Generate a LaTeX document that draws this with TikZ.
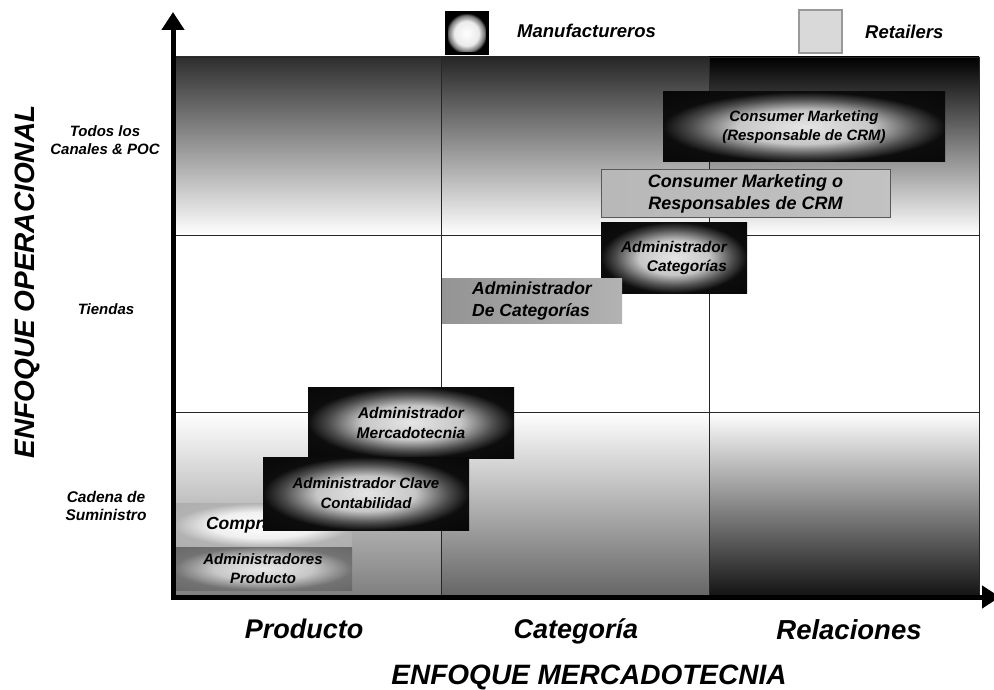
\documentclass[tikz,border=0pt]{standalone}
\usepackage{fontspec}
\setmainfont{Liberation Sans}
\usetikzlibrary{arrows.meta}

\pgfdeclareradialshading{darkglow}{\pgfpoint{0bp}{0bp}}{color(0bp)=(black!10); color(12bp)=(black!22); color(20bp)=(black!70); color(25bp)=(black!95); color(50bp)=(black)}
\pgfdeclareradialshading{paleglow}{\pgfpoint{0bp}{0bp}}{color(0bp)=(white); color(15bp)=(black!6); color(25bp)=(black!30); color(50bp)=(black!35)}
\pgfdeclareradialshading{greyglow}{\pgfpoint{0bp}{0bp}}{color(0bp)=(black!8); color(14bp)=(black!22); color(25bp)=(black!55); color(50bp)=(black!65)}
\pgfdeclareradialshading{keyglow}{\pgfpoint{0bp}{0bp}}{color(0bp)=(white); color(15bp)=(black!8); color(22bp)=(black!55); color(25bp)=(black); color(50bp)=(black)}

\tikzset{
  textsize/.style 2 args={font=\bfseries\itshape\fontsize{#1}{#2}\selectfont},
  lbl/.style={inner sep=0pt, align=center},
  box/.style={rectangle, inner sep=0pt, align=center},
  darkbox/.style={box, shading=darkglow},
  palebox/.style={box, shading=paleglow},
  greybox/.style={box, shading=greyglow},
  gridline/.style={line width=0.8pt, black!85},
  axis/.style={line width=5pt, -{Triangle[width=22pt,length=18pt]}}
}

\begin{document}
\begin{tikzpicture}[x=1pt, y=-1pt]
  \useasboundingbox (0,0) rectangle (994,690);

  % bands
  \shade[top color=black!82, middle color=black!65, bottom color=white] (175,57) rectangle (441,235);
  \shade[top color=black!85, middle color=black!65, bottom color=white] (441,57) rectangle (709,235);
  \shade[top color=black, middle color=black!78, bottom color=white] (709,57) rectangle (979,235);
  \shade[top color=white, middle color=black!25, bottom color=black!50] (175,412) rectangle (441,595);
  \shade[top color=white, middle color=black!38, bottom color=black!60] (441,412) rectangle (709,595);
  \shade[top color=white, middle color=black!70, bottom color=black!92] (709,412) rectangle (979,595);

  % grid
  \draw[gridline] (175,57) rectangle (979,595);
  \draw[gridline] (175,235) -- (979,235);
  \draw[gridline] (175,412) -- (979,412);
  \draw[gridline] (441,57) -- (441,595);
  \draw[gridline] (709,57) -- (709,595);

  % legend
  \node[box, shading=keyglow, draw=black, line width=3pt, minimum size=41] (mfrkey) at (466.5,33.5) {};
  \node[lbl, anchor=west, textsize={18.5}{22}] (mfrtext) at (517,31) {Manufactureros};
  \node[box, fill=black!15, draw=black!40, line width=2pt, minimum size=43] (retkey) at (820,31.5) {};
  \node[lbl, anchor=west, textsize={18.5}{22}] (rettext) at (865,32) {Retailers};

  % roles
  \node[darkbox, minimum width=282, minimum height=70, textsize={15}{19}] (crmmgr) at (804,127) {Consumer Marketing\\(Responsable de CRM)};
  \node[box, left color=black!28, middle color=black!8, right color=black!24, draw=black!65, line width=1pt, minimum width=289, minimum height=47, textsize={18}{22}] (crmret) at (745.5,193.5) {Consumer Marketing o\\Responsables de CRM};
  \node[darkbox, align=right, minimum width=146, minimum height=71, textsize={15.5}{19}] (catmfr) at (674,257.5) {Administrador\\Categorías};
  \node[box, align=left, left color=black!42, middle color=black!20, right color=black!30, minimum width=180, minimum height=45, textsize={17.5}{22}] (catret) at (532,300.5) {Administrador\\De Categorías};
  \node[darkbox, minimum width=206, minimum height=71, textsize={15.5}{20}] (mktmgr) at (411,422.5) {Administrador\\Mercadotecnia};
  \node[palebox, minimum width=178, minimum height=44, textsize={17.5}{21}] (buyer) at (263,525) {Compradores};
  \node[greybox, minimum width=178, minimum height=43, textsize={15}{19}] (prodmgr) at (263,568.5) {Administradores\\Producto};
  \node[darkbox, minimum width=206, minimum height=73, textsize={15}{20}] (keyacct) at (366,493.5) {Administrador Clave\\Contabilidad};

  % axes
  \coordinate (origin) at (173,597);
  \coordinate (ytip) at (173,12);
  \coordinate (xtip) at (1000,597);
  \draw[axis] (origin) -- (ytip);
  \draw[axis] ([xshift=-2.5pt]origin) -- (xtip);

  % row labels
  \node[lbl, textsize={15}{18}] (allrow) at (105,140) {Todos los\\Canales \& POC};
  \node[lbl, textsize={15}{18}] (storerow) at (106,309) {Tiendas};
  \node[lbl, textsize={15.5}{18}] (supplyrow) at (106,506) {Cadena de\\Suministro};
  \node[lbl, rotate=90, textsize={28}{32}] (yaxis) at (27,282) {ENFOQUE OPERACIONAL};

  % column labels
  \node[lbl, anchor=base, textsize={27}{32}] (prodcol) at (304,638) {Producto};
  \node[lbl, anchor=base, textsize={27}{32}] (catcol) at (576,638) {Categoría};
  \node[lbl, anchor=base, textsize={27.5}{32}] (relcol) at (849,639) {Relaciones};
  \node[lbl, anchor=base, textsize={28}{32}] (xaxis) at (589,684) {ENFOQUE MERCADOTECNIA};
\end{tikzpicture}
\end{document}
